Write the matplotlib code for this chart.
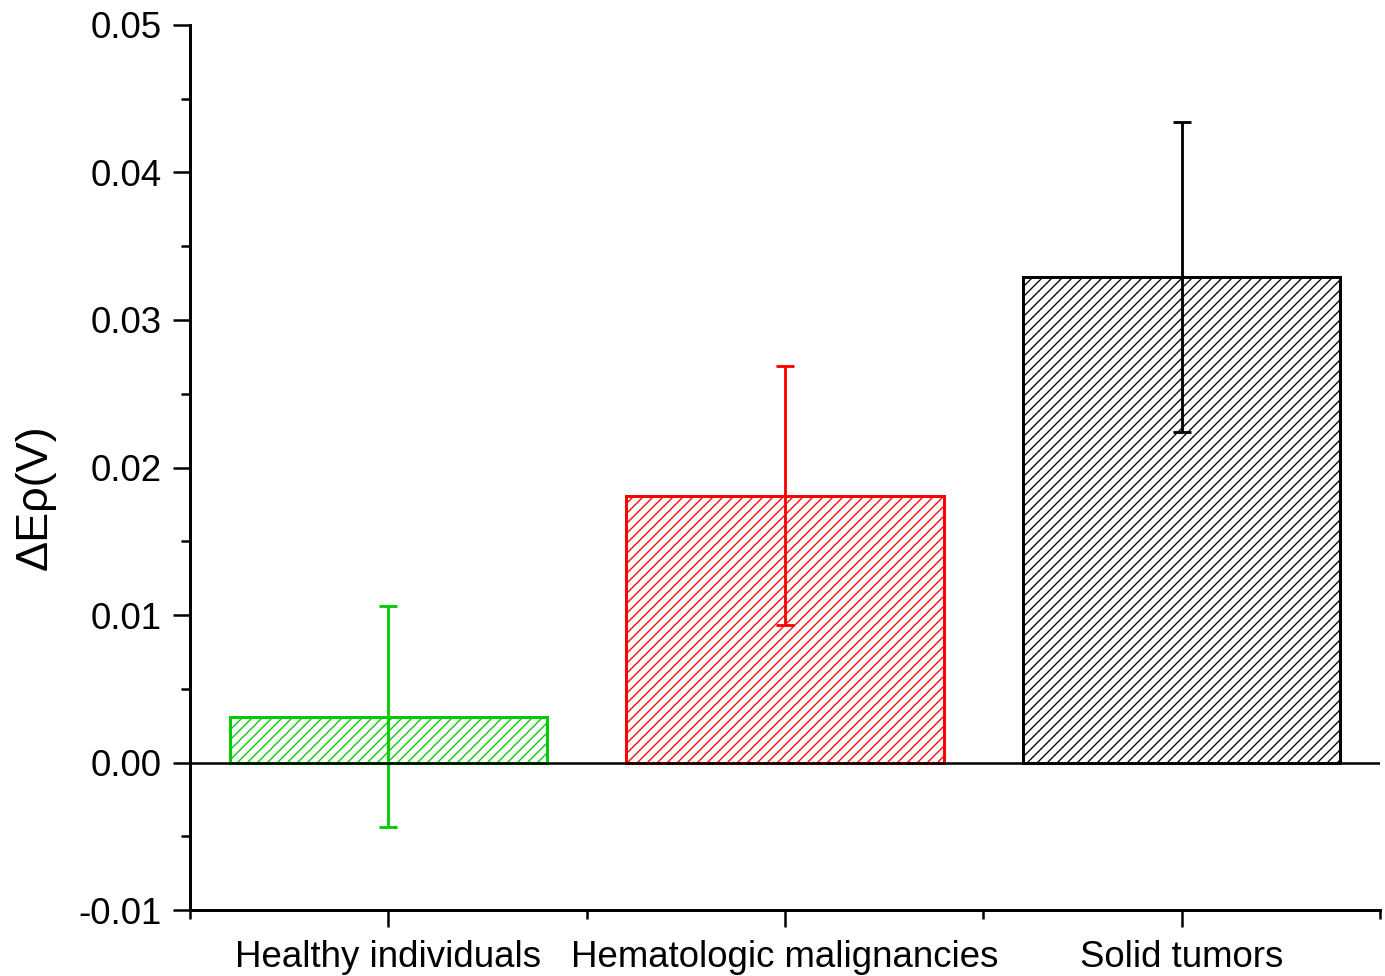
import numpy as np
import matplotlib.pyplot as plt
from matplotlib.ticker import MultipleLocator, FixedLocator

plt.rcParams['font.family'] = ['Liberation Sans', 'DejaVu Sans']
plt.rcParams['hatch.linewidth'] = 0.8

# Дані
groups = ['Healthy individuals', 'Hematologic malignancies', 'Solid tumors']
dEp = [0.0031, 0.0181, 0.0329]
dEp_err = [0.0075, 0.0088, 0.0105]
colors = ['#00cc00', '#ff0000', '#000000']

fig = plt.figure(figsize=(1385 / 120, 976 / 120), dpi=120)
ax = fig.add_axes([0.1372, 0.0676, 0.8592, 0.9068])

x = np.arange(1, len(groups) + 1)
for xi, v, e, c in zip(x, dEp, dEp_err, colors):
    ax.bar(xi, v, width=0.8, facecolor='white', edgecolor=c, hatch='////',
           linewidth=1.8, zorder=2)
    ax.errorbar(xi, v, yerr=e, color=c, elinewidth=1.7, capsize=5.4,
                capthick=1.7, zorder=3)

ax.axhline(0, color='black', linewidth=1.5, zorder=4)

ax.set_xlim(0.5, 3.5)
ax.set_ylim(-0.01, 0.05)
ax.set_xticks(x)
ax.set_xticklabels(groups)
ax.xaxis.set_minor_locator(FixedLocator([0.5, 1.5, 2.5, 3.5]))
ax.yaxis.set_major_locator(MultipleLocator(0.01))
ax.yaxis.set_minor_locator(MultipleLocator(0.005))
ax.yaxis.set_major_formatter(plt.FormatStrFormatter('%.2f'))

for s in ['top', 'right']:
    ax.spines[s].set_visible(False)
for s in ['left', 'bottom']:
    ax.spines[s].set_linewidth(1.8)

ax.tick_params(which='major', length=10, width=1.5, labelsize=22, pad=8)
ax.tick_params(which='minor', length=5.4, width=1.5)
ax.tick_params(axis='y', which='major', pad=7)

ax.set_ylabel('ΔEρ(V)', fontsize=27)
ax.yaxis.set_label_coords(-0.113, 0.467)

fig.savefig('out.png', dpi=120)
